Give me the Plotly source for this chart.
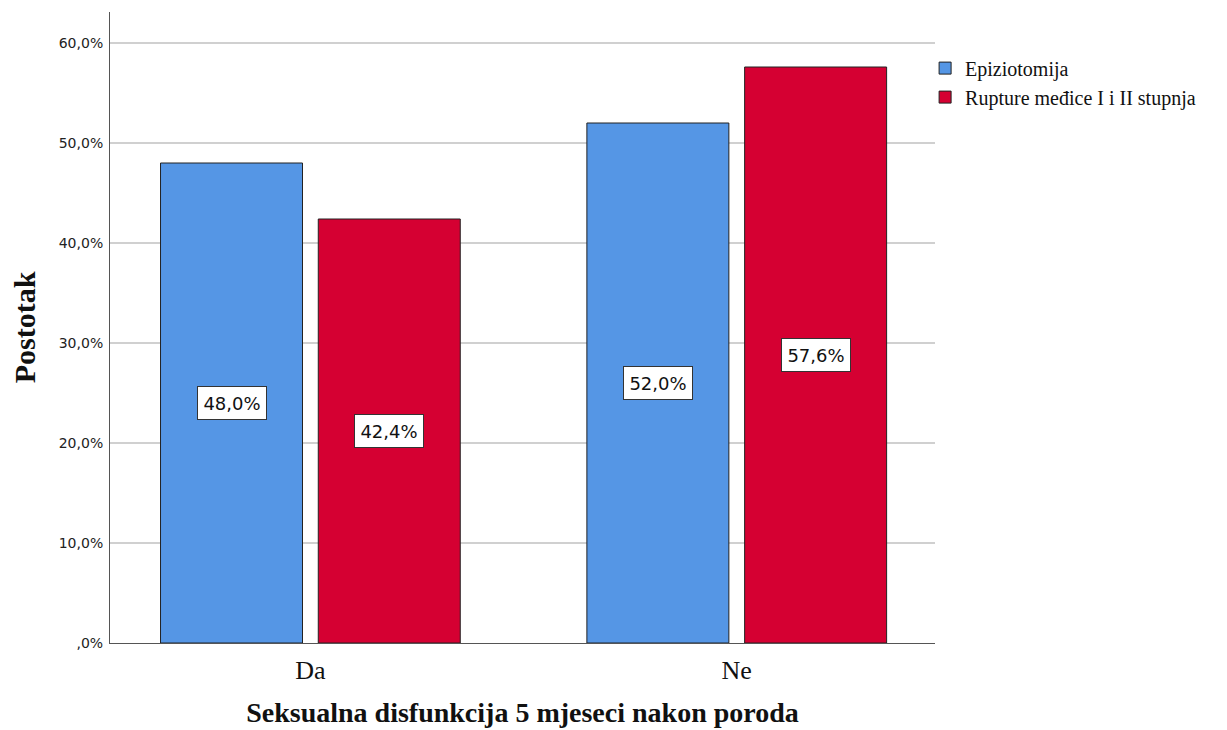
import plotly.graph_objects as go

categories = ["Da", "Ne"]
series_names = ["Epiziotomija", "Rupture međice I i II stupnja"]
epiziotomija = [48.0, 52.0]
rupture = [42.4, 57.6]
y_tick_vals = [0, 10, 20, 30, 40, 50, 60]
y_tick_text = [",0%", "10,0%", "20,0%", "30,0%", "40,0%", "50,0%", "60,0%"]

colors = ["#5596E5", "#D50032"]
bargap = 0.26
bargroupgap = 0.1

fig = go.Figure()
for name, vals, col in zip(series_names, [epiziotomija, rupture], colors):
    fig.add_trace(go.Bar(
        x=categories, y=vals, name=name,
        marker=dict(color=col, line=dict(color="#222222", width=1)),
    ))

def fmt(v):
    return f"{v:.1f}%".replace(".", ",")

slot = (1 - bargap) / 2
for si, vals in enumerate([epiziotomija, rupture]):
    off = (si - 0.5) * slot
    for ci, v in enumerate(vals):
        fig.add_annotation(
            x=ci + off, y=v / 2, xref="x", yref="y",
            text=fmt(v), showarrow=False,
            font=dict(family="DejaVu Sans", size=18, color="#111111"),
            bgcolor="white", bordercolor="#333333", borderwidth=1, borderpad=3,
            width=62, height=26,
        )

# page body has an 8px margin; margins compensate so the plot area sits as in the reference
fig.update_layout(
    width=1227, height=730,
    margin=dict(l=102, r=300, t=4, b=95),
    paper_bgcolor="white", plot_bgcolor="white",
    barmode="group", bargap=bargap, bargroupgap=bargroupgap,
    showlegend=True,
    legend=dict(x=0.988, y=0.942, xanchor="left", yanchor="top",
                font=dict(family="Liberation Serif", size=20, color="#111111"),
                tracegroupgap=0, itemwidth=30),
    xaxis=dict(
        type="category", range=[-0.47, 1.465],
        showline=True, linecolor="#555555", linewidth=1,
        ticks="", ticklabelstandoff=4,
        tickfont=dict(family="Liberation Serif", size=26, color="#111111"),
        title=dict(text="<b>Seksualna disfunkcija 5 mjeseci nakon poroda</b>",
                   font=dict(family="Liberation Serif", size=28, color="#111111"),
                   standoff=18),
        showgrid=False,
    ),
    yaxis=dict(
        range=[0, 63.1],
        tickvals=y_tick_vals, ticktext=y_tick_text,
        tickfont=dict(family="DejaVu Sans", size=14, color="#222222"),
        ticklabelstandoff=3,
        showline=True, linecolor="#555555", linewidth=1,
        showgrid=True, gridcolor="#D0D0D0", gridwidth=2,
        zeroline=False, ticks="", ticklen=0,
        title=dict(text="<b>Postotak</b>",
                   font=dict(family="Liberation Serif", size=30, color="#111111"),
                   standoff=18),
    ),
)

fig.write_html("out.html")
